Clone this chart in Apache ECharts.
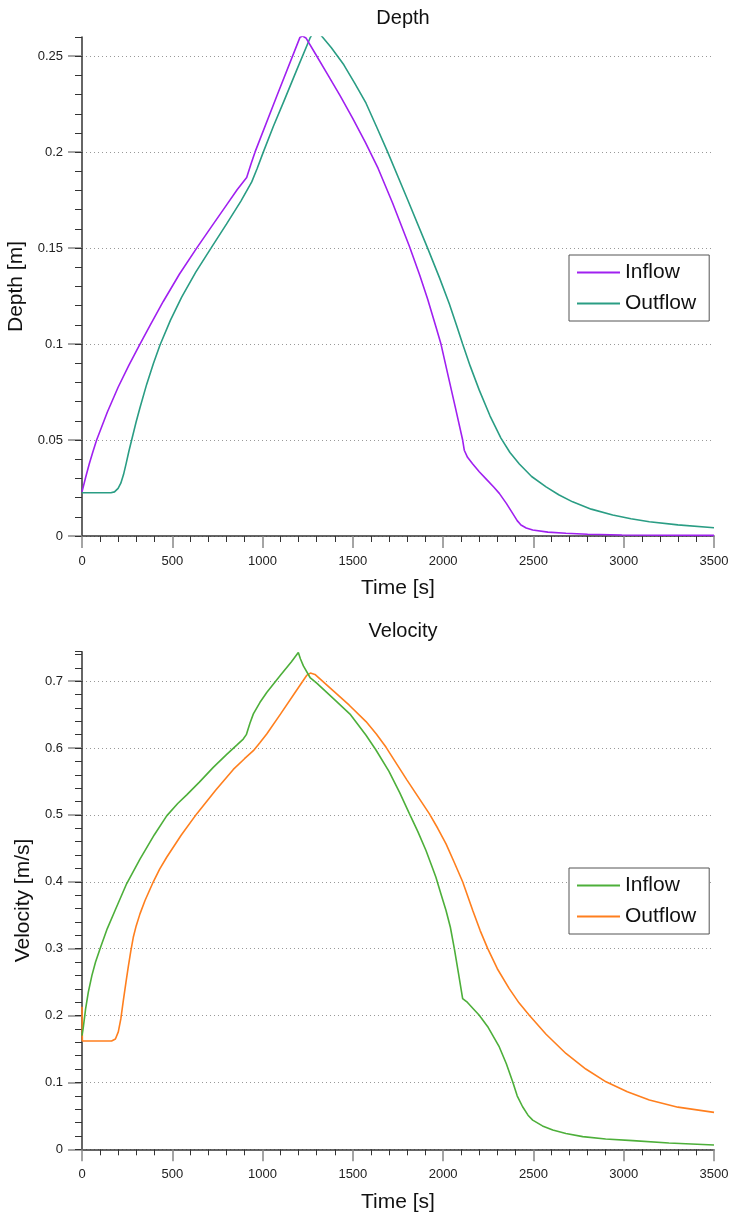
<!DOCTYPE html>
<html>
<head>
<meta charset="utf-8">
<script src="https://cdn.jsdelivr.net/npm/echarts@6/dist/echarts.min.js"></script>
<style>
html,body{margin:0;padding:0;background:#fff;}
#c1{position:absolute;left:0;top:0;width:732px;height:610px;}
#c2{position:absolute;left:0;top:610px;width:732px;height:608px;}
</style>
</head>
<body>
<div id="c1"></div>
<div id="c2"></div>
<script>
// ---- Data ----
const seriesNames = ['Inflow', 'Outflow'];
const xTicks = [0, 500, 1000, 1500, 2000, 2500, 3000, 3500];
const depthTicks = [0, 0.05, 0.1, 0.15, 0.2, 0.25];
const velocityTicks = [0, 0.1, 0.2, 0.3, 0.4, 0.5, 0.6, 0.7];

const depthInflowT = [0, 20, 40, 60, 81, 140, 200, 260, 321, 380, 450, 540, 635, 720, 800, 860, 912, 935, 958, 1080, 1207, 1222, 1240, 1294, 1360, 1430, 1500, 1570, 1640, 1720, 1813, 1870, 1914, 1960, 1988, 2030, 2070, 2108, 2117, 2135, 2164, 2200, 2240, 2280, 2311, 2350, 2385, 2410, 2431, 2460, 2496, 2580, 2680, 2800, 2990, 3500];
const depthInflowV = [0.023, 0.0305, 0.0375, 0.0438, 0.05, 0.0645, 0.0775, 0.089, 0.1, 0.1103, 0.1222, 0.1365, 0.15, 0.1616, 0.1724, 0.1805, 0.1868, 0.1936, 0.2, 0.2295, 0.2598, 0.2605, 0.2595, 0.251, 0.2405, 0.2293, 0.2175, 0.205, 0.1915, 0.1735, 0.151, 0.136, 0.1235, 0.109, 0.1, 0.0825, 0.066, 0.05, 0.0447, 0.041, 0.0375, 0.0335, 0.0295, 0.0255, 0.0222, 0.017, 0.0118, 0.008, 0.0057, 0.0042, 0.0031, 0.002, 0.0014, 0.0009, 0.0005, 0.0003];

const depthOutflowT = [0, 160, 180, 200, 215, 230, 245, 260, 275, 300, 321, 358, 395, 432, 490, 552, 630, 718, 800, 880, 940, 970, 1004, 1060, 1120, 1190, 1263, 1295, 1327, 1380, 1450, 1510, 1573, 1630, 1693, 1800, 1914, 1980, 2034, 2075, 2108, 2150, 2200, 2260, 2320, 2370, 2422, 2490, 2570, 2640, 2717, 2820, 2939, 3040, 3142, 3300, 3500];
const depthOutflowV = [0.0225, 0.0225, 0.023, 0.0248, 0.0275, 0.032, 0.038, 0.0443, 0.05, 0.0595, 0.0668, 0.079, 0.0898, 0.0995, 0.1125, 0.1245, 0.1375, 0.1505, 0.1625, 0.1745, 0.1845, 0.1915, 0.2, 0.2135, 0.227, 0.243, 0.2595, 0.2645, 0.2605, 0.2545, 0.2455, 0.236, 0.2255, 0.2135, 0.2, 0.176, 0.15, 0.1345, 0.121, 0.1095, 0.1, 0.0885, 0.076, 0.0625, 0.051, 0.0435, 0.0375, 0.031, 0.0256, 0.0215, 0.0178, 0.014, 0.0109, 0.009, 0.0074, 0.0058, 0.0043];

const velInflowT = [0, 7, 20, 35, 55, 75, 100, 140, 183, 247, 321, 400, 469, 530, 580, 650, 727, 800, 860, 893, 910, 930, 949, 985, 1023, 1100, 1160, 1198, 1210, 1226, 1263, 1300, 1400, 1484, 1573, 1628, 1700, 1760, 1813, 1860, 1905, 1935, 1960, 1990, 2016, 2040, 2062, 2085, 2108, 2135, 2164, 2200, 2250, 2311, 2350, 2385, 2410, 2440, 2470, 2496, 2550, 2607, 2680, 2773, 2900, 3050, 3250, 3500];
const velInflowV = [0.17, 0.182, 0.21, 0.235, 0.26, 0.28, 0.3, 0.33, 0.357, 0.397, 0.434, 0.47, 0.4985, 0.517, 0.53, 0.549, 0.571, 0.59, 0.605, 0.6134, 0.62, 0.637, 0.651, 0.668, 0.683, 0.709, 0.729, 0.7427, 0.733, 0.7228, 0.7054, 0.697, 0.672, 0.6507, 0.619, 0.597, 0.565, 0.533, 0.502, 0.475, 0.4467, 0.425, 0.4069, 0.38, 0.357, 0.332, 0.3, 0.263, 0.2254, 0.2195, 0.211, 0.2004, 0.182, 0.153, 0.128, 0.1009, 0.08, 0.0636, 0.051, 0.0437, 0.035, 0.0288, 0.0235, 0.0189, 0.0155, 0.0129, 0.0095, 0.0064];

const velOutflowT = [0, 2, 164, 185, 201, 215, 229, 243, 256, 270, 284, 300, 321, 349, 395, 430, 469, 550, 635, 740, 838, 900, 949, 985, 1023, 1100, 1180, 1244, 1265, 1290, 1392, 1480, 1573, 1630, 1684, 1800, 1924, 1970, 2016, 2060, 2108, 2164, 2205, 2247, 2300, 2366, 2420, 2477, 2570, 2680, 2790, 2902, 3020, 3142, 3300, 3500];
const velOutflowV = [0.213, 0.162, 0.162, 0.165, 0.1755, 0.195, 0.2228, 0.249, 0.2725, 0.296, 0.317, 0.334, 0.352, 0.372, 0.4, 0.419, 0.4367, 0.47, 0.5015, 0.537, 0.568, 0.584, 0.596, 0.608, 0.621, 0.651, 0.683, 0.7085, 0.712, 0.71, 0.6855, 0.664, 0.6395, 0.621, 0.601, 0.552, 0.5015, 0.48, 0.4567, 0.43, 0.4, 0.357, 0.327, 0.3, 0.27, 0.2403, 0.219, 0.2004, 0.172, 0.1433, 0.12, 0.1009, 0.086, 0.0736, 0.063, 0.0552];

const pairs = (t, v) => t.map((x, i) => [x, v[i]]);

const FONT = 'Liberation Sans';
const TXT = '#111';

function makeOption(cfg) {
  return {
    animation: false,
    backgroundColor: '#fff',
    textStyle: { fontFamily: FONT },
    title: {
      text: cfg.title, left: 398, top: cfg.titleTop, textAlign: 'center',
      textStyle: { fontFamily: FONT, fontSize: 20, fontWeight: 'normal', color: TXT }
    },
    legend: {
      orient: 'vertical', left: 569, top: cfg.legendTop,
      data: seriesNames,
      icon: 'rect', itemWidth: 43, itemHeight: 2, itemGap: 10,
      padding: [7, 13, 7, 8],
      borderColor: '#555', borderWidth: 1, backgroundColor: '#fff',
      textStyle: { fontFamily: FONT, fontSize: 21, color: TXT, lineHeight: 20 }
    },
    grid: { left: 82, right: 18, top: cfg.gridTop, height: cfg.gridHeight, containLabel: false, outerBoundsMode: 'none' },
    xAxis: {
      type: 'value', min: 0, max: 3500, interval: 500,
      name: 'Time [s]', nameLocation: 'middle', nameGap: 42,
      nameTextStyle: { fontFamily: FONT, fontSize: 21, color: TXT },
      axisLine: { show: true, onZero: false, lineStyle: { color: '#333', width: 1.5 } },
      axisTick: { show: true, length: 12, lineStyle: { color: '#888', width: 1.5 }, customValues: xTicks },
      minorTick: { show: true, splitNumber: 5, length: 6, lineStyle: { color: '#333', width: 1 } },
      axisLabel: { fontFamily: FONT, fontSize: 13, color: '#222', margin: 19, customValues: xTicks,
                   formatter: v => String(v) },
      splitLine: { show: false }
    },
    yAxis: [{
      type: 'value', min: 0, max: cfg.yMax,
      name: cfg.yName, nameLocation: 'middle', nameGap: cfg.yNameGap,
      nameTextStyle: { fontFamily: FONT, fontSize: 21, color: TXT },
      axisLine: { show: true, onZero: false, lineStyle: { color: '#333', width: 1.5 } },
      axisTick: { show: true, length: 14, lineStyle: { color: '#888', width: 1.5 }, customValues: cfg.yTicks },
      axisLabel: { fontFamily: FONT, fontSize: 13, color: '#222', margin: 19, customValues: cfg.yTicks },
      splitLine: { show: true, lineStyle: { color: '#999', width: 1, type: [1, 3] } }
    }, {
      type: 'value', min: 0, max: cfg.yMax, interval: cfg.minorInterval, position: 'left',
      axisLine: { show: false, onZero: false },
      axisTick: { show: true, length: 7, lineStyle: { color: '#333', width: 1 } },
      axisLabel: { show: false },
      splitLine: { show: false }
    }],
    series: [
      { name: seriesNames[0], type: 'line', yAxisIndex: 0, data: cfg.s1, showSymbol: false, symbol: 'none',
        lineStyle: { color: cfg.c1, width: 1.6 }, itemStyle: { color: cfg.c1 }, clip: true, z: 3 },
      { name: seriesNames[1], type: 'line', yAxisIndex: 0, data: cfg.s2, showSymbol: false, symbol: 'none',
        lineStyle: { color: cfg.c2, width: 1.6 }, itemStyle: { color: cfg.c2 }, clip: true, z: 2 }
    ]
  };
}

const chart1 = echarts.init(document.getElementById('c1'), null, { renderer: 'canvas' });
chart1.setOption(makeOption({
  title: 'Depth', titleTop: 3, legendTop: 255,
  gridTop: 37, gridHeight: 499, yMax: 0.26, minorInterval: 0.01,
  yName: 'Depth [m]', yNameGap: 45, yTicks: depthTicks,
  s1: pairs(depthInflowT, depthInflowV), s2: pairs(depthOutflowT, depthOutflowV),
  c1: '#a020f0', c2: '#2a9d84'
}));

const chart2 = echarts.init(document.getElementById('c2'), null, { renderer: 'canvas' });
chart2.setOption(makeOption({
  title: 'Velocity', titleTop: 6, legendTop: 258,
  gridTop: 41.7, gridHeight: 497.6, yMax: 0.744, minorInterval: 0.02,
  yName: 'Velocity [m/s]', yNameGap: 42, yTicks: velocityTicks,
  s1: pairs(velInflowT, velInflowV), s2: pairs(velOutflowT, velOutflowV),
  c1: '#4daf3a', c2: '#ff7f1e'
}));
</script>
</body>
</html>
